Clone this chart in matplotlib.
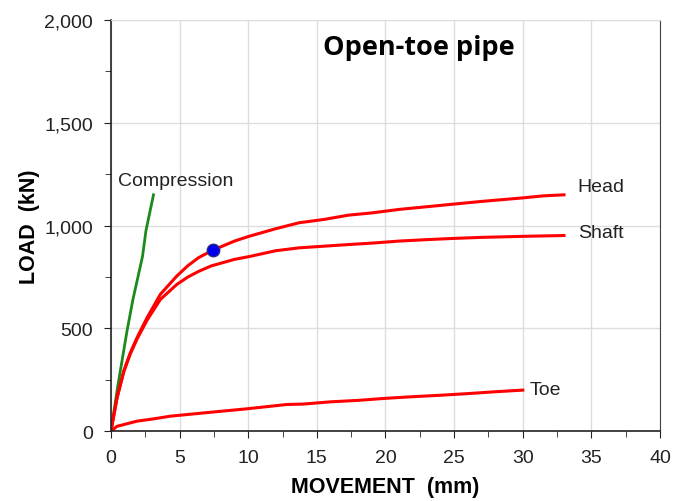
import numpy as np
import matplotlib
matplotlib.use('agg')
import matplotlib.pyplot as plt
from matplotlib.ticker import MultipleLocator, FuncFormatter

plt.rcParams['font.family'] = ['Liberation Sans', 'DejaVu Sans']

head_x = [0, 0.44, 0.93, 1.41, 1.9, 2.63, 3.6, 4.8, 5.6, 6.4, 7.4, 9.0, 10.1, 12, 13.7, 15.5, 17.3, 19, 21, 23, 25, 27, 30, 31.5, 33]
head_y = [0, 162, 292, 381, 455, 552, 666, 755, 805, 845, 880, 925, 949, 985, 1014, 1030, 1051, 1062, 1079, 1092, 1105, 1118, 1135, 1145, 1150]

shaft_x = [0, 0.44, 0.93, 1.41, 1.9, 2.63, 3.6, 4.8, 5.6, 6.4, 7.3, 9.0, 10.1, 12, 13.7, 15.5, 17.3, 19, 21, 23, 25, 27, 30, 33]
shaft_y = [0, 160, 288, 376, 448, 540, 641, 714, 750, 778, 804, 836, 850, 878, 892, 900, 908, 915, 925, 932, 938, 943, 948, 952]

toe_x = [0, 0.44, 0.92, 1.9, 3.1, 4.3, 6.75, 9.9, 12.8, 14, 16, 18, 20, 22, 24, 26, 28, 30]
toe_y = [0, 24, 32, 49, 60, 73, 89, 109, 130, 132, 143, 150, 160, 168, 175, 183, 192, 200]

comp_x = [0, 0.5, 1.17, 1.6, 2.3, 2.55, 3.1]
comp_y = [0, 220, 487, 640, 850, 975, 1150]

point_x = [7.4]
point_y = [880]

fig = plt.figure(figsize=(6.89, 5.02), dpi=100)
ax = fig.add_axes([0.161, 0.139, 0.797, 0.819])

ax.plot(comp_x, comp_y, color='#1a8a1a', lw=2)
ax.plot(head_x, head_y, color='#ff0000', lw=2.2)
ax.plot(shaft_x, shaft_y, color='#ff0000', lw=2.2)
ax.plot(toe_x, toe_y, color='#ff0000', lw=2.2)
ax.plot(point_x, point_y, 'o', color='#0000ee', markersize=9, markeredgecolor='#2a2a88', zorder=5)

ax.set_xlim(0, 40)
ax.set_ylim(0, 2000)
ax.xaxis.set_major_locator(MultipleLocator(5))
ax.xaxis.set_minor_locator(MultipleLocator(2.5))
ax.yaxis.set_major_locator(MultipleLocator(500))
ax.yaxis.set_minor_locator(MultipleLocator(250))
ax.yaxis.set_major_formatter(FuncFormatter(lambda v, p: f'{int(v):,}'))
ax.grid(True, which='major', color='#dddddd', lw=1)
ax.set_axisbelow(True)

for s in ['left', 'bottom']:
    ax.spines[s].set_color('#222222')
    ax.spines[s].set_linewidth(1.2)
ax.spines['right'].set_color('#444444')
ax.spines['top'].set_color('#dddddd')

ax.tick_params(which='major', direction='out', length=5, labelsize=14, colors='#222222', pad=8)
ax.tick_params(which='minor', direction='out', length=4, colors='#222222')

ax.set_xlabel('MOVEMENT  (mm)', fontsize=15.5, fontweight='bold', labelpad=7)
ax.set_ylabel('LOAD  (kN)', fontsize=15.5, fontweight='bold', labelpad=3)

ax.text(0.5, 1220, 'Compression', fontsize=14, color='#222222', va='center')
ax.text(34, 1192, 'Head', fontsize=14, color='#222222', va='center')
ax.text(34, 968, 'Shaft', fontsize=14, color='#222222', va='center')
ax.text(30.5, 204, 'Toe', fontsize=14, color='#222222', va='center')
ax.text(22.4, 1870, 'Open-toe pipe', fontsize=19.5, fontweight='bold', ha='center', va='center',
        family=['Open Sans', 'DejaVu Sans'])

fig.savefig('out.png', dpi=100)
